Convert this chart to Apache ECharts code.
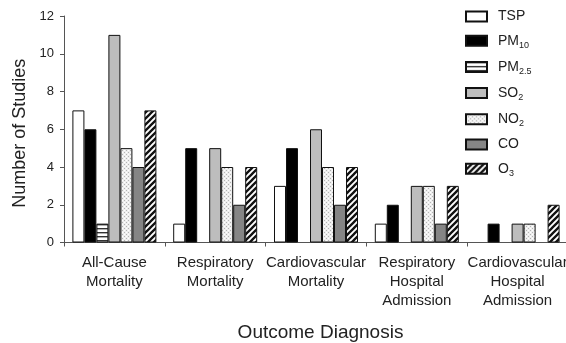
<!DOCTYPE html>
<html>
<head>
<meta charset="utf-8">
<script src="https://cdn.jsdelivr.net/npm/echarts@6/dist/echarts.min.js"></script>
<style>
  html, body { margin: 0; padding: 0; background: #fff; }
  #chart { width: 566px; height: 343px; }
</style>
</head>
<body>
<div id="chart"></div>
<script>
// Number of studies per outcome and pollutant
const categories = [
  'All-Cause\nMortality',
  'Respiratory\nMortality',
  'Cardiovascular\nMortality',
  'Respiratory\nHospital\nAdmission',
  'Cardiovascular\nHospital\nAdmission'
];
const pollutants = ['TSP', 'PM10', 'PM2.5', 'SO2', 'NO2', 'CO', 'O3'];
const tsp  = [7, 1, 3, 1, 0];
const pm10 = [6, 5, 5, 2, 1];
const pm25 = [1, 0, 0, 0, 0];
const so2  = [11, 5, 6, 3, 1];
const no2  = [5, 4, 4, 3, 1];
const co   = [4, 2, 2, 1, 0];
const o3   = [7, 4, 4, 3, 2];
const yTicks = [0, 2, 4, 6, 8, 10, 12];

// Legend label markup: chemical subscripts
const legendMarkup = {
  'TSP': '{b|TSP}',
  'PM10': '{b|PM}{s|10}',
  'PM2.5': '{b|PM}{s|2.5}',
  'SO2': '{b|SO}{s|2}',
  'NO2': '{b|NO}{s|2}',
  'CO': '{b|CO}',
  'O3': '{b|O}{s|3}'
};

function tile(w, h, draw) {
  const c = document.createElement('canvas');
  c.width = w; c.height = h;
  draw(c.getContext('2d'), w, h);
  return { image: c, repeat: 'repeat' };
}

const fillHoriz = tile(4, 4, (g, w, h) => {
  g.fillStyle = '#fff'; g.fillRect(0, 0, w, h);
  g.fillStyle = '#333'; g.fillRect(0, 0, w, 1.4);
});
const fillDots = tile(4, 4, (g, w, h) => {
  g.fillStyle = '#eeeeee'; g.fillRect(0, 0, w, h);
  g.fillStyle = '#b4b4b4';
  g.fillRect(0, 0, 1, 1); g.fillRect(2, 2, 1, 1);
  g.fillStyle = '#ffffff';
  g.fillRect(2, 0, 1, 1); g.fillRect(0, 2, 1, 1);
});
const fillDiag = tile(6, 6, (g, w, h) => {
  g.fillStyle = '#fff'; g.fillRect(0, 0, w, h);
  g.strokeStyle = '#111'; g.lineWidth = 2.3;
  g.beginPath();
  g.moveTo(-1, 7); g.lineTo(7, -1);
  g.moveTo(-1, 1); g.lineTo(1, -1);
  g.moveTo(5, 7); g.lineTo(7, 5);
  g.stroke();
});

const fills = ['#ffffff', '#000000', fillHoriz, '#bdbdbd', fillDots, '#858585', fillDiag];
const values = [tsp, pm10, pm25, so2, no2, co, o3];

const font = '"Liberation Sans", Arial, Helvetica, sans-serif';

const chart = echarts.init(document.getElementById('chart'), null, { renderer: 'canvas' });

chart.setOption({
  backgroundColor: '#ffffff',
  animation: false,
  textStyle: { fontFamily: font, color: '#222' },
  grid: { left: 64, right: -2, top: 16, bottom: 100.5, containLabel: false, outerBoundsMode: 'none' },
  legend: {
    orient: 'vertical',
    left: 465,
    top: 9.5,
    padding: 0,
    itemWidth: 21,
    itemHeight: 10,
    itemGap: 9.2,
    icon: 'rect',
    data: pollutants,
    itemStyle: { borderWidth: 2, borderColor: '#111' },
    formatter: name => legendMarkup[name],
    textStyle: {
      fontFamily: font,
      padding: [0, 0, 0, 6],
      rich: {
        b: { fontSize: 14, lineHeight: 18, color: '#222', fontFamily: font },
        s: { fontSize: 9, lineHeight: 18, color: '#222', fontFamily: font, verticalAlign: 'bottom', padding: [8, 0, 0, 0] }
      }
    }
  },
  xAxis: {
    type: 'category',
    data: categories,
    name: 'Outcome Diagnosis',
    nameLocation: 'middle',
    nameGap: 81,
    nameTextStyle: { fontSize: 19, color: '#222', fontFamily: font, padding: [0, 0, 0, 9] },
    axisLine: { lineStyle: { color: '#555', width: 1 } },
    axisTick: { show: true, length: 4, alignWithLabel: false, lineStyle: { color: '#555' } },
    axisLabel: { fontSize: 15, lineHeight: 19, color: '#222', margin: 11, interval: 0, fontFamily: font }
  },
  yAxis: {
    type: 'value',
    min: yTicks[0],
    max: yTicks[yTicks.length - 1],
    interval: 2,
    name: 'Number of Studies',
    nameLocation: 'middle',
    nameGap: 34,
    nameTextStyle: { fontSize: 18, color: '#222', fontFamily: font, padding: [0, 8, 0, 0] },
    axisLine: { show: true, lineStyle: { color: '#555', width: 1 } },
    axisTick: { show: true, length: 4, lineStyle: { color: '#555' } },
    axisLabel: { fontSize: 13, color: '#222', margin: 10, fontFamily: font },
    splitLine: { show: false }
  },
  series: pollutants.map((p, i) => ({
    name: p,
    type: 'bar',
    barWidth: 12,
    barGap: '0%',
    data: values[i].map(v => (v === 0 ? null : v)),
    itemStyle: { color: fills[i], borderColor: '#111', borderWidth: 1 }
  }))
});
</script>
</body>
</html>
